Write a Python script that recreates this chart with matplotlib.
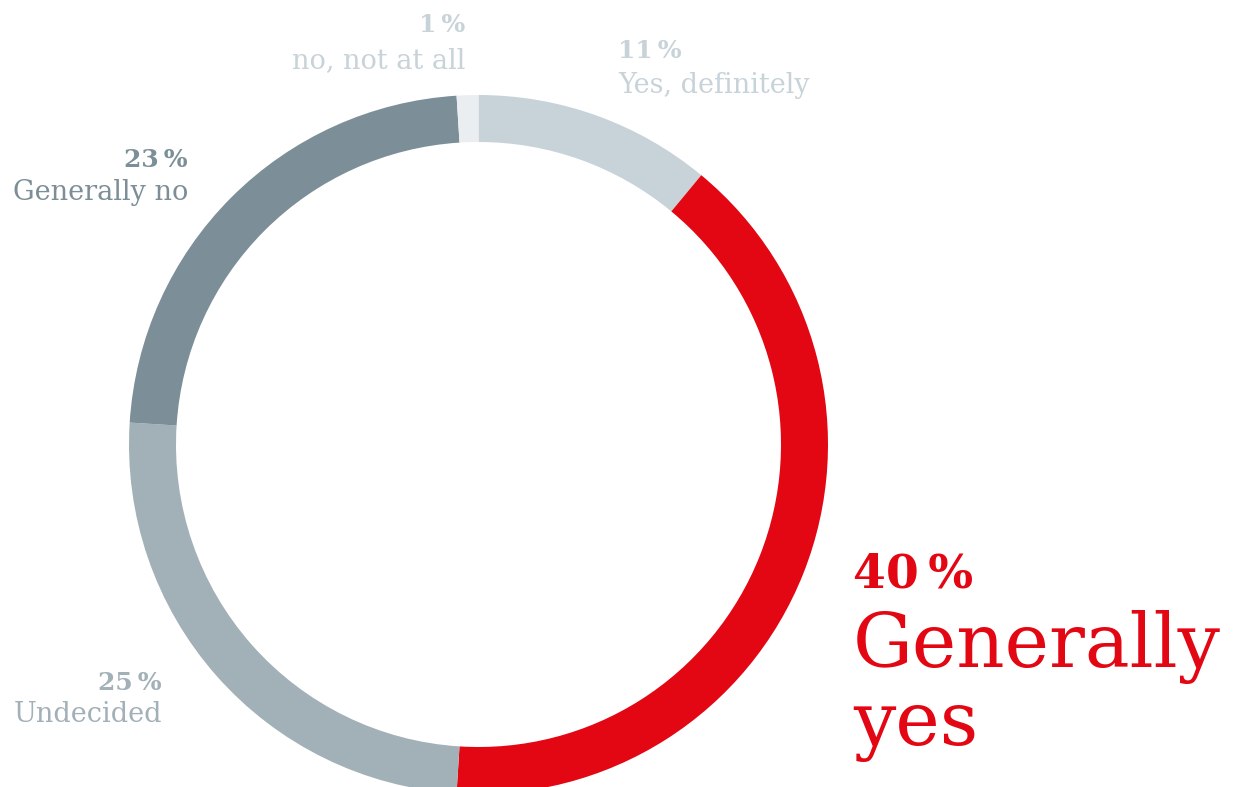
import matplotlib
matplotlib.use("Agg")
import matplotlib.pyplot as plt

# answer shares, clockwise from 12 o'clock
labels = ["Yes, definitely", "Generally yes", "Undecided", "Generally no", "no, not at all"]
shares = [11, 40, 25, 23, 1]
colors = ["#c8d3d9", "#e30613", "#a2b0b8", "#7c8e97", "#eaeef1"]

W, H = 1242, 787
fig = plt.figure(figsize=(W / 100, H / 100), dpi=100)
ax = fig.add_axes([0, 0, 1, 1])

ax.pie(shares, colors=colors, startangle=90, counterclock=False,
       center=(478.5, 342.5), radius=349.5,
       wedgeprops=dict(width=47, linewidth=0))
ax.set_xlim(0, W)
ax.set_ylim(0, H)
ax.set_aspect("equal")
ax.axis("off")

font = "DejaVu Serif"

def label(x, y_pct, y_txt, pct, txt, col, ha, s1=18, s2=19.5):
    ax.text(x, H - y_pct, "%d\u2009%%" % pct, ha=ha, va="baseline", fontsize=s1,
            fontweight="bold", color=col, family=font)
    ax.text(x, H - y_txt, txt, ha=ha, va="baseline", fontsize=s2,
            color=col, family=font)

label(465, 32, 68, shares[4], labels[4], "#c8d3d9", "right")
label(618, 58, 93, shares[0], labels[0], "#c8d3d9", "left")
label(188, 167, 200, shares[3], labels[3], "#7c8e97", "right")
label(162, 690, 722, shares[2], labels[2], "#a2b0b8", "right")

ax.text(853, H - 587, "%d\u2009%%" % shares[1], ha="left", va="baseline", fontsize=34,
        fontweight="bold", color="#e30613", family=font)
ax.text(853, H - 667, "Generally", ha="left", va="baseline", fontsize=54,
        color="#e30613", family=font)
ax.text(853, H - 745, "yes", ha="left", va="baseline", fontsize=54,
        color="#e30613", family=font)

fig.savefig("out.png", dpi=100)
